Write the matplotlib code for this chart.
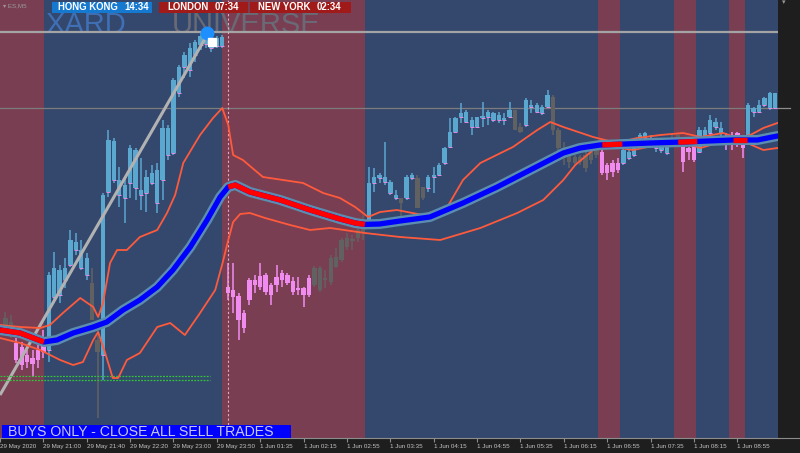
import numpy as np
import matplotlib
matplotlib.use("Agg")
import matplotlib.pyplot as plt
from matplotlib.patches import Rectangle
from matplotlib.lines import Line2D

plt.rcParams['font.family'] = ['Liberation Sans', 'DejaVu Sans']

# ES M5 candles, bar index 0..142
opens = [2980.5, 2979.5, 2974.25, 2973.25, 2971.25, 2970.5, 2972.5, 2975.5,
         2972.5, 2985.75, 2986.25, 2990.0, 2993.75, 2997.5, 2993.0, 2991.25,
         2989.25, 2972.0, 2971.25, 3012.0, 3015.0, 3011.25, 3010.5, 3014.25,
         3013.0, 3011.25, 3011.75, 3014.25, 3009.25, 3015.0, 3021.25, 3021.75,
         3036.75, 3043.25, 3042.5, 3046.25, 3048.75, 3049.0, 3048.0, 3048.5,
         3048.5, 2988.25, 2987.5, 2986.0, 2981.75, 2990.0, 2990.0, 2991.0,
         2991.25, 2988.75, 2990.75, 2991.75, 2991.25, 2989.75, 2988.0, 2988.0,
         2990.5, 2988.75, 2987.5, 2990.0, 2989.5, 2993.25, 2995.0, 2998.25,
         2999.75, 3000.5, 3002.0, 3005.0, 3014.25, 3015.5, 3014.5, 3011.75,
         3010.5, 3010.5, 3010.5, 3015.5, 3015.5, 3013.25, 3013.0, 3015.75,
         3016.25, 3019.25, 3023.25, 3027.0, 3030.75, 3029.5, 3028.25, 3028.25,
         3030.5, 3030.75, 3030.0, 3030.0, 3030.0, 3030.75, 3032.5, 3028.25,
         3028.75, 3033.25, 3032.0, 3031.75, 3033.25, 3035.75, 3027.5, 3023.0,
         3021.25, 3020.75, 3019.5, 3021.25, 3020.0, 3021.25, 3022.0, 3018.75,
         3019.25, 3019.25, 3019.25, 3020.5, 3021.25, 3023.25, 3025.5, 3024.25,
         3023.0, 3022.5, 3021.75, 3025.5, 3026.25, 3023.75, 3023.0, 3023.75,
         3022.0, 3025.5, 3026.75, 3028.25, 3026.75, 3025.75, 3025.75, 3026.75,
         3025.5, 3025.5, 3032.0, 3032.0, 3033.75, 3033.0, 3033.0]
highs = [2982.0, 2981.25, 2975.5, 2974.5, 2972.5, 2972.5, 2973.75, 2977.5,
         2992.0, 2997.0, 2993.75, 2995.5, 3002.5, 3001.75, 3000.0, 2996.75,
         2993.0, 2977.5, 3011.75, 3027.5, 3025.5, 3018.25, 3015.75, 3023.75,
         3023.0, 3020.5, 3017.5, 3018.75, 3019.25, 3030.0, 3028.75, 3040.5,
         3043.75, 3047.0, 3049.25, 3050.0, 3051.75, 3051.25, 3050.0, 3051.0,
         3051.25, 2994.25, 2994.25, 2986.75, 2982.5, 2990.5, 2991.25, 2994.25,
         2991.75, 2989.25, 2993.75, 2992.5, 2991.75, 2990.75, 2990.75, 2988.25,
         2991.25, 2993.5, 2993.5, 2992.5, 2996.25, 2998.0, 3000.5, 3001.75,
         3001.25, 3004.25, 3006.25, 3018.25, 3018.0, 3016.75, 3024.5, 3015.0,
         3012.5, 3010.5, 3016.25, 3016.75, 3016.25, 3013.25, 3016.25, 3018.25,
         3019.25, 3023.25, 3030.5, 3030.75, 3034.25, 3032.5, 3030.75, 3030.75,
         3034.5, 3032.5, 3032.0, 3032.0, 3031.75, 3034.5, 3032.5, 3029.25,
         3035.5, 3035.0, 3034.25, 3033.75, 3037.5, 3036.25, 3028.0, 3024.5,
         3022.0, 3021.25, 3021.25, 3022.0, 3022.5, 3023.0, 3022.5, 3019.25,
         3020.0, 3020.5, 3023.25, 3022.5, 3023.75, 3026.75, 3027.0, 3026.25,
         3024.5, 3024.25, 3024.25, 3026.75, 3026.75, 3023.75, 3023.25, 3024.25,
         3028.25, 3028.25, 3031.25, 3030.5, 3029.5, 3026.75, 3027.0, 3027.0,
         3026.25, 3034.25, 3033.25, 3035.0, 3035.75, 3037.0, 3036.75]
lows = [2976.25, 2975.5, 2969.25, 2967.5, 2968.0, 2965.75, 2968.0, 2970.5,
        2969.5, 2985.0, 2984.25, 2988.0, 2993.25, 2996.25, 2992.5, 2990.0,
        2980.0, 2955.5, 2965.0, 3010.75, 3014.25, 3008.25, 3004.25, 3010.5,
        3010.0, 3007.5, 3007.0, 3013.75, 3006.75, 3010.0, 3020.0, 3021.25,
        3035.75, 3040.5, 3040.75, 3044.5, 3047.5, 3048.0, 3047.0, 3048.0,
        3048.0, 2985.0, 2981.75, 2975.0, 2976.75, 2983.75, 2986.75, 2987.5,
        2986.25, 2983.75, 2987.0, 2988.25, 2988.75, 2986.25, 2986.25, 2983.25,
        2985.75, 2988.25, 2987.0, 2988.0, 2988.75, 2993.0, 2994.5, 2997.5,
        2997.5, 2999.5, 3000.0, 3004.5, 3012.0, 3014.25, 3013.75, 3011.25,
        3010.0, 3005.75, 3010.0, 3015.0, 3008.0, 3010.0, 3012.0, 3011.75,
        3016.25, 3018.75, 3023.0, 3026.75, 3029.25, 3029.25, 3026.25, 3028.0,
        3028.25, 3028.75, 3029.5, 3029.25, 3028.75, 3030.5, 3027.5, 3026.75,
        3028.25, 3031.75, 3031.75, 3031.25, 3033.0, 3026.25, 3022.0, 3018.75,
        3018.0, 3018.5, 3018.75, 3017.0, 3019.0, 3020.5, 3016.25, 3015.0,
        3015.75, 3016.75, 3018.75, 3020.0, 3020.75, 3023.0, 3024.5, 3023.75,
        3022.0, 3021.75, 3021.25, 3024.25, 3023.75, 3017.0, 3020.0, 3019.5,
        3021.75, 3024.5, 3026.25, 3027.5, 3025.75, 3022.5, 3022.5, 3023.25,
        3020.5, 3025.0, 3030.75, 3031.75, 3033.25, 3032.5, 3033.0]
closes = [2977.5, 2977.0, 2970.0, 2968.75, 2969.5, 2969.0, 2970.0, 2972.0,
          2991.25, 2993.0, 2992.5, 2993.0, 3000.0, 2999.5, 2997.5, 2995.5,
          2980.0, 2975.0, 3011.25, 3025.0, 3024.75, 3015.0, 3013.75, 3023.0,
          3022.5, 3012.5, 3015.75, 3016.75, 3017.5, 3028.0, 3028.0, 3040.0,
          3043.25, 3046.25, 3048.0, 3049.5, 3051.0, 3050.5, 3049.5, 3050.5,
          3050.75, 2986.75, 2985.75, 2980.0, 2978.0, 2985.0, 2988.75, 2988.25,
          2987.0, 2986.25, 2988.75, 2990.0, 2989.25, 2987.0, 2987.5, 2986.25,
          2986.25, 2993.0, 2993.0, 2990.5, 2995.5, 2995.75, 3000.0, 3000.5,
          3000.25, 3002.5, 3003.75, 3014.25, 3015.75, 3016.25, 3015.75, 3014.5,
          3011.25, 3009.25, 3015.75, 3016.25, 3008.0, 3010.5, 3015.75, 3016.25,
          3018.75, 3023.0, 3027.0, 3030.5, 3031.75, 3032.0, 3030.0, 3030.75,
          3031.0, 3032.0, 3031.75, 3031.25, 3030.5, 3032.5, 3027.5, 3027.0,
          3035.0, 3033.75, 3033.75, 3033.25, 3036.25, 3027.5, 3023.0, 3020.5,
          3019.5, 3019.25, 3020.75, 3018.0, 3022.0, 3022.5, 3016.75, 3016.75,
          3017.0, 3017.5, 3022.5, 3022.0, 3023.0, 3026.25, 3026.75, 3025.5,
          3024.25, 3023.75, 3023.75, 3024.5, 3024.25, 3019.5, 3022.0, 3020.0,
          3027.5, 3027.5, 3030.0, 3029.5, 3028.0, 3025.0, 3023.75, 3024.5,
          3023.0, 3033.75, 3033.0, 3033.75, 3035.5, 3036.75, 3036.75]
# B = buy colour, P = sell colour, G = neutral
candle_state = ("GG" + "P" * 6 + "B" * 8 + "GG" + "B" * 23 + "P" * 16 + "G" * 10
                + "B" * 6 + "G" + "BB" + "GG" + "B" * 16 + "GG" + "B" * 5 + "G" * 9
                + "P" * 4 + "B" * 9 + "GG" + "PPP" + "B" * 5 + "PPPP" + "B" * 6)

# session shading edges (bar units), starting with a red session
session_edges = [-1, 7.1, 40, 66.3, 109.3, 113.4, 123.4, 127.4, 133.5, 136.5, 142.5]

# slow moving average (thick line)
ma_x = [-1, 2.7, 7.1, 9.5, 12.5, 16.2, 18.7, 21.7, 24.8, 28.0, 30.9, 34.1, 37.2,
        39.6, 41.1, 42.4, 45.1, 50.7, 56.2, 61.7, 64.5, 66.3, 69.0, 72.8, 78.3,
        84.4, 90.7, 96.8, 102.9, 106.0, 109.7, 118.9, 125.0, 134.2, 138.7, 142.4]
ma_y = [2977.5, 2976.75, 2974.5, 2975.0, 2976.75, 2978.25, 2979.5, 2982.5, 2985.0,
        2988.25, 2992.5, 2998.25, 3005.0, 3010.75, 3013.25, 3013.75, 3012.0, 3010.0,
        3007.5, 3005.25, 3004.25, 3003.9, 3004.0, 3004.75, 3005.75, 3009.25, 3013.25,
        3017.5, 3021.75, 3023.0, 3023.75, 3024.25, 3024.5, 3025.0, 3025.0, 3026.0]
ma_down_spans = [(-1, 7.1), (41.1, 66.3), (110.1, 113.8), (124.1, 127.6), (134.2, 136.8)]

upper_x = [-1, 2.7, 6.4, 8.2, 10.6, 13.8, 16.2, 17.1, 18.0, 19.3, 20.6, 22.4, 24.8,
           28.0, 29.8, 31.3, 32.8, 35.9, 38.3, 40.0, 41.1, 42.0, 43.8, 45.1, 47.5,
           51.2, 54.9, 58.6, 61.7, 64.5, 66.9, 69.1, 72.2, 77.0, 81.5, 84.4, 87.6,
           93.6, 98.1, 100.5, 102.9, 108.4, 112.8, 116.5, 120.8, 125.0, 128.2, 132.4,
           135.0, 137.4, 139.8, 142.4]
upper_y = [2978.75, 2978.25, 2978.0, 2978.75, 2981.75, 2985.5, 2983.25, 2980.75,
           2984.25, 2994.25, 2997.5, 2997.5, 3000.75, 3002.5, 3006.75, 3011.25,
           3019.25, 3026.25, 3030.5, 3033.0, 3028.75, 3021.25, 3020.0, 3018.5,
           3015.75, 3015.0, 3014.25, 3011.75, 3010.5, 3008.25, 3005.75, 3007.0,
           3007.5, 3006.25, 3008.25, 3015.0, 3019.25, 3023.25, 3027.5, 3029.5,
           3028.25, 3025.75, 3024.25, 3025.5, 3026.25, 3026.75, 3025.75, 3026.75,
           3025.5, 3026.25, 3028.0, 3029.25]
lower_x = [-1, 2.7, 6.4, 10.1, 12.5, 14.3, 16.2, 17.1, 18.4, 19.8, 20.8, 22.4, 24.8,
           28.0, 30.4, 33.1, 35.9, 38.7, 40.1, 41.1, 42.0, 43.3, 45.1, 47.9, 52.5,
           56.2, 59.9, 66.3, 72.8, 80.2, 87.6, 94.4, 99.2, 102.9, 105.1, 108.4, 111.0,
           115.8, 120.2, 125.0, 128.2, 131.3, 133.7, 136.8, 139.8, 142.4]
lower_y = [2975.5, 2974.25, 2972.5, 2970.0, 2968.75, 2969.5, 2975.0, 2977.0, 2971.75,
           2965.5, 2965.5, 2970.0, 2971.75, 2978.25, 2979.25, 2976.25, 2981.75,
           2987.5, 2994.5, 3000.0, 3004.5, 3006.5, 3006.75, 3005.5, 3003.75, 3002.5,
           3003.0, 3001.75, 3000.75, 3000.0, 3003.0, 3006.75, 3010.0, 3015.0, 3018.75,
           3022.5, 3023.5, 3022.5, 3023.75, 3024.25, 3023.0, 3024.25, 3025.5, 3024.25,
           3022.5, 3023.0]

trend_x = [-1, 37.2]
trend_y = [2961.25, 3051.25]
level_hi = 3052.0
level_mid = 3033.0
support_levels = [2966.0, 2965.0]
support_x = [-1, 37.7]
swing_x, swing_y = 37.2, 3051.75
entry_x, entry_y = 38.1, 3049.6
day_break = 41.1

tick_pos = [-1] + list(range(7, 136, 8))
tick_labels = ["29 May 2020", "29 May 21:00", "29 May 21:40", "29 May 22:20",
               "29 May 23:00", "29 May 23:50", "1 Jun 01:35", "1 Jun 02:15",
               "1 Jun 02:55", "1 Jun 03:35", "1 Jun 04:15", "1 Jun 04:55",
               "1 Jun 05:35", "1 Jun 06:15", "1 Jun 06:55", "1 Jun 07:35",
               "1 Jun 08:15", "1 Jun 08:55"]

W, H = 800, 453
fig = plt.figure(figsize=(8, 4.53), dpi=100, facecolor="#1e1e1e")
ax = fig.add_axes([0, 15 / H, 778 / W, 438 / H])
ax.set_xlim(-1, 142.5)
ax.set_ylim(2950.5, 3060)

red_bg, blue_bg = "#7a3e52", "#34486e"
for i in range(len(session_edges) - 1):
    ax.axvspan(session_edges[i], session_edges[i + 1], lw=0, zorder=0,
               color=red_bg if i % 2 == 0 else blue_bg)

# watermark
ax.text(45 / W, 1 - 33 / H, "XARD", transform=fig.transFigure, fontsize=21,
        color="#3f6fb4", va="baseline", zorder=1)
ax.text(172 / W, 1 - 33 / H, "UNIVERSE", transform=fig.transFigure, fontsize=21,
        color="#6a6a76", va="baseline", zorder=1)

ax.axhline(level_mid, color="#7c7c7c", lw=0.9, zorder=2)
ax.axhline(level_hi, color="#a4a4a4", lw=1.6, zorder=4)

# candles
x = np.arange(len(opens))
o = np.array(opens); c = np.array(closes)
palette = {"B": "#5aa7d0", "P": "#f08cf0", "G": "#616161"}
cols = [palette[s] for s in candle_state]
ax.vlines(x, lows, highs, colors=cols, lw=1.1, zorder=3)
ax.bar(x, np.maximum(np.abs(c - o), 0.3), 0.8, np.minimum(o, c), color=cols,
       lw=0, zorder=3)
buy = np.array([s == "B" for s in candle_state])
ax.plot(x[buy], o[buy], ls="none", marker="_", ms=3, mew=0.7, color="#e68ce6",
        zorder=3)

ax.plot(trend_x, trend_y, color="#b2b2b2", lw=2.2, zorder=4, solid_capstyle="butt")
for lv in support_levels:
    ax.plot(support_x, [lv, lv], color="#33c23a", lw=0.9, ls=(0, (1.5, 1)), zorder=4)
ax.axvline(day_break, color="#e6a8c8", lw=0.8, ls=(0, (2, 2)), zorder=4)

ax.plot(upper_x, upper_y, color="#ff5a3c", lw=1.3, zorder=5)
ax.plot(lower_x, lower_y, color="#ff5a3c", lw=1.3, zorder=5)

ax.plot(ma_x, ma_y, color="#5b8db0", lw=7.2, solid_capstyle="round", zorder=6)
ax.plot(ma_x, ma_y, color="#0000ff", lw=3.8, solid_capstyle="round", zorder=7)
for a, b in ma_down_spans:
    xs = [a] + [v for v in ma_x if a < v < b] + [b]
    ax.plot(xs, np.interp(xs, ma_x, ma_y), color="#ff0000", lw=3.8,
            solid_capstyle="butt", zorder=8)

ax.plot(swing_x, swing_y, "o", ms=9, color="#1e8fff", zorder=9)
ax.plot(entry_x, entry_y, "s", ms=6, color="white", zorder=9)

# axes styling
for s in ["top", "left", "right"]:
    ax.spines[s].set_visible(False)
ax.spines["bottom"].set_color("#8c8c8c")
ax.set_yticks([])
ax.set_xticks(tick_pos)
ax.set_xticklabels(tick_labels, ha="left")
ax.tick_params(axis="x", colors="#8c8c8c", labelcolor="#c4c4c4", length=3,
               width=0.8, labelsize=4.5, pad=1.5)

fig.add_artist(Line2D([778 / W, 1], [1 - 438 / H] * 2, color="#8c8c8c", lw=0.8))
fig.add_artist(Line2D([778 / W, 790 / W], [1 - 108 / H] * 2, color="#8c8c8c", lw=0.9))


def box(x0, y0, x1, y1, color):
    fig.add_artist(Rectangle((x0 / W, 1 - y1 / H), (x1 - x0) / W, (y1 - y0) / H,
                             transform=fig.transFigure, color=color, lw=0, zorder=10))


box(52, 2, 152, 13, "#1679d0")
box(159, 2, 248, 13, "#a01a1a")
box(250, 2, 351, 13, "#a01a1a")
hdr = dict(fontsize=6.9, weight="bold", color="white", va="center", zorder=11)
fig.text(58 / W, 1 - 7.5 / H, "HONG KONG", **hdr)
fig.text(124 / W, 1 - 7.5 / H, "14:34", **hdr)
fig.text(167 / W, 1 - 7.5 / H, "LONDON", **hdr)
fig.text(215 / W, 1 - 7.5 / H, "07:34", **hdr)
fig.text(258 / W, 1 - 7.5 / H, "NEW YORK", **hdr)
fig.text(317 / W, 1 - 7.5 / H, "02:34", **hdr)
fig.text(3 / W, 1 - 6 / H, "▾ ES,M5", fontsize=4.5, color="#9a9a9a", va="center",
         zorder=11)
fig.text(782 / W, 1 - 3 / H, "▾", fontsize=5, color="#9a9a9a", va="center", zorder=11)

box(2, 425, 291, 438, "#0000ff")
fig.text(8 / W, 1 - 431.5 / H, "BUYS ONLY - CLOSE ALL SELL TRADES", fontsize=10.2,
         color="#c8c8f0", va="center", zorder=11)

fig.savefig("out.png", dpi=100, facecolor=fig.get_facecolor())
